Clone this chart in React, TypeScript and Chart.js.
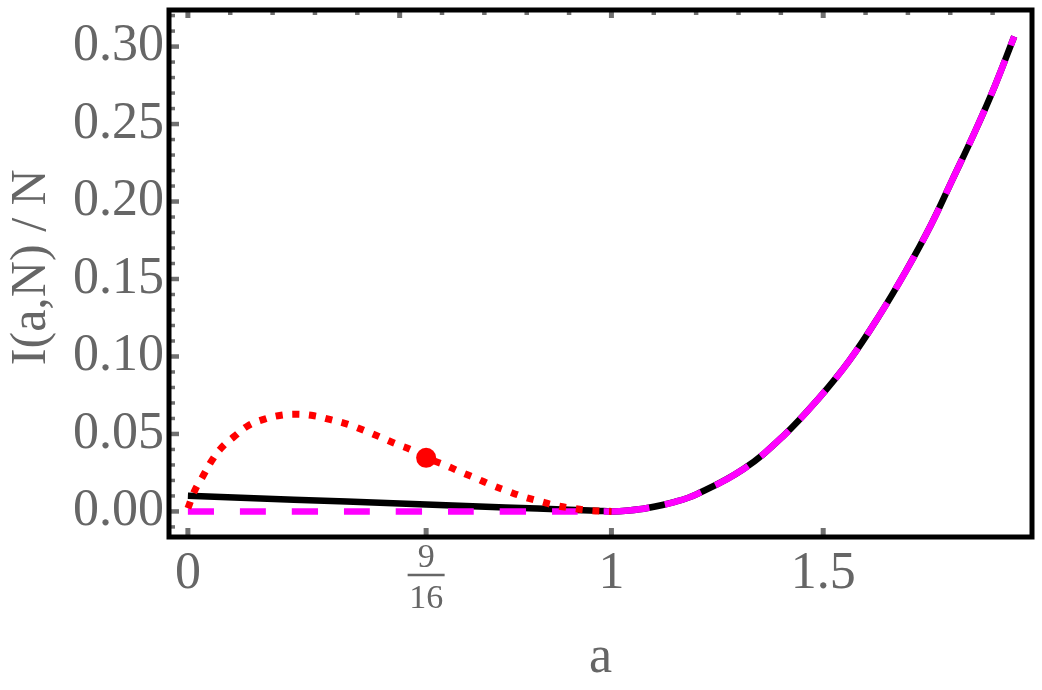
import React, { useEffect, useRef } from 'react';
import { Chart, registerables } from 'chart.js';

Chart.register(...registerables);

// ---- data ----
const blackA = [0, 0.25, 0.5, 0.75, 0.9, 0.967, 1.0, 1.04, 1.085, 1.15, 1.202, 1.311, 1.405, 1.491, 1.562, 1.632, 1.695, 1.754, 1.804, 1.859, 1.906, 1.951];
const blackI = [0.0101, 0.0076, 0.0051, 0.0026, 0.0011, 0.0005, 0.0, 0.0006, 0.0022, 0.0062, 0.0112, 0.0272, 0.0485, 0.0735, 0.0975, 0.1262, 0.155, 0.1847, 0.2135, 0.2455, 0.2751, 0.3065];

const magentaA = [0, 0.25, 0.5, 0.75, 1.0, 1.04, 1.085, 1.15, 1.202, 1.311, 1.405, 1.491, 1.562, 1.632, 1.695, 1.754, 1.804, 1.859, 1.906, 1.951];
const magentaI = [0, 0, 0, 0, 0, 0.0006, 0.0022, 0.0062, 0.0112, 0.0272, 0.0485, 0.0735, 0.0975, 0.1262, 0.155, 0.1847, 0.2135, 0.2455, 0.2751, 0.3065];

const redA = [0, 0.016, 0.036, 0.056, 0.079, 0.11, 0.142, 0.181, 0.22, 0.259, 0.298, 0.337, 0.38, 0.418, 0.455, 0.491, 0.529, 0.5625, 0.603, 0.642, 0.681, 0.717, 0.752, 0.791, 0.83, 0.869, 0.911, 0.951, 0.991, 1.0];
const redI = [0.002, 0.0134, 0.023, 0.0326, 0.041, 0.0485, 0.0553, 0.0596, 0.0621, 0.0627, 0.0617, 0.0592, 0.056, 0.0521, 0.0479, 0.0436, 0.0396, 0.0346, 0.0304, 0.0257, 0.0213, 0.017, 0.0134, 0.0096, 0.0066, 0.0038, 0.0019, 0.0006, 0.0001, 0];

const dotA = [0.5625];
const dotI = [0.0346];

const xTickValues = [0, 0.5625, 1, 1.5];
const xTickLabels: (string | string[])[] = ['0', ['9', '16'], '1', '1.5'];
const yTickValues = [0, 0.05, 0.1, 0.15, 0.2, 0.25, 0.3];
const yTickLabels = ['0.00', '0.05', '0.10', '0.15', '0.20', '0.25', '0.30'];

const xTitle = 'a';
const yTitle = ' I(a,N) / N';

const FONT = "'Liberation Serif', 'Times New Roman', serif";
const GREY = '#666666';
const TICK_GREY = '#707070';

const toPts = (xs: number[], ys: number[]) => xs.map((x, i) => ({ x, y: ys[i] }));

const framePlugin = {
  id: 'mmaFrame',
  beforeDatasetsDraw(chart: any) {
    const { ctx, chartArea: a, scales } = chart;
    const xs = scales.x;
    const ys = scales.y;
    ctx.save();
    ctx.strokeStyle = TICK_GREY;
    ctx.lineCap = 'butt';
    const line = (x1: number, y1: number, x2: number, y2: number, w: number) => {
      ctx.lineWidth = w;
      ctx.beginPath();
      ctx.moveTo(x1, y1);
      ctx.lineTo(x2, y2);
      ctx.stroke();
    };
    // left frame ticks (0.01 minor, 0.05 major)
    for (let k = -1; k <= 32; k++) {
      const v = k / 100;
      const y = ys.getPixelForValue(v);
      if (y < a.top + 2 || y > a.bottom - 2) continue;
      const major = k % 5 === 0;
      line(a.left, y, a.left + (major ? 10 : 6), y, major ? 4.5 : 3.5);
    }
    // top frame ticks (0.1 minor, 0.5 major)
    for (let k = 0; k <= 19; k++) {
      const v = k / 10;
      const x = xs.getPixelForValue(v);
      const major = k % 5 === 0;
      line(x, a.top, x, a.top + (major ? 8 : 5), major ? 5 : 4.5);
    }
    // bottom frame ticks
    xTickValues.forEach((v) => {
      const x = xs.getPixelForValue(v);
      line(x, a.bottom, x, a.bottom - 9, 5);
    });
    ctx.restore();
  },
  afterDatasetsDraw(chart: any) {
    const { ctx, chartArea: a } = chart;
    ctx.save();
    ctx.strokeStyle = '#000';
    ctx.lineWidth = 5;
    ctx.strokeRect(a.left, a.top, a.right - a.left, a.bottom - a.top);
    ctx.restore();
  },
  afterDraw(chart: any) {
    const { ctx, chartArea: a, scales } = chart;
    const x = scales.x.getPixelForValue(xTickValues[1]);
    const y = a.bottom + 38;
    ctx.save();
    ctx.strokeStyle = GREY;
    ctx.lineWidth = 2.5;
    ctx.beginPath();
    ctx.moveTo(x - 18.5, y);
    ctx.lineTo(x + 18.5, y);
    ctx.stroke();
    ctx.restore();
  },
};

export default function App() {
  const ref = useRef<HTMLCanvasElement | null>(null);

  useEffect(() => {
    if (!ref.current) return;
    const chart = new Chart(ref.current, {
      type: 'line',
      data: {
        datasets: [
          {
            label: 'dot',
            data: toPts(dotA, dotI),
            showLine: false,
            pointRadius: 10,
            pointBackgroundColor: '#ff0000',
            pointBorderWidth: 0,
            borderColor: '#ff0000',
            order: -1,
          },
          {
            label: 'red',
            data: toPts(redA, redI),
            borderColor: '#ff0000',
            borderWidth: 7,
            borderDash: [7, 9.7],
            borderCapStyle: 'butt',
            pointRadius: 0,
            tension: 0.4,
            order: 0,
          },
          {
            label: 'magenta',
            data: toPts(magentaA, magentaI),
            borderColor: '#ff00ff',
            borderWidth: 6.5,
            borderCapStyle: 'butt',
            pointRadius: 0,
            tension: 0.4,
            segment: {
              borderDash: (c: any) => (c.p0.parsed.x < 1 ? [26, 26] : [38, 16]),
            },
            order: 1,
          },
          {
            label: 'black',
            data: toPts(blackA, blackI),
            borderColor: '#000000',
            borderWidth: 6.5,
            borderCapStyle: 'butt',
            pointRadius: 0,
            tension: 0.4,
            order: 2,
          },
        ] as any,
      },
      options: {
        animation: false,
        responsive: false,
        events: [],
        layout: { padding: { top: 3, right: 5, left: 0, bottom: 0 } },
        plugins: { legend: { display: false }, tooltip: { enabled: false } },
        scales: {
          x: {
            type: 'linear',
            min: -0.0446,
            max: 1.993,
            grid: { display: false, drawTicks: false },
            border: { display: false },
            afterBuildTicks: (s: any) => {
              s.ticks = xTickValues.map((v) => ({ value: v }));
            },
            afterFit: (s: any) => {
              s.height = 153;
              s.paddingLeft = 0;
              s.paddingRight = 0;
              s.paddingTop = 0;
              s.paddingBottom = 0;
            },
            ticks: {
              autoSkip: false,
              maxRotation: 0,
              minRotation: 0,
              padding: 1,
              color: GREY,
              font: (c: any) =>
                c.index === 1
                  ? { family: FONT, size: 34, lineHeight: 1.2 }
                  : { family: FONT, size: 52, lineHeight: 1.404 },
              callback: (_v: any, i: number) => xTickLabels[i],
            },
            title: {
              display: true,
              text: xTitle,
              color: GREY,
              font: { family: FONT, size: 52, lineHeight: 1.2 },
              padding: { top: 0, bottom: 0 },
            },
          },
          y: {
            type: 'linear',
            min: -0.0165,
            max: 0.3236,
            grid: { display: false, drawTicks: false },
            border: { display: false },
            afterBuildTicks: (s: any) => {
              s.ticks = yTickValues.map((v) => ({ value: v }));
            },
            afterFit: (s: any) => {
              s.width = 169;
              s.paddingLeft = 0;
              s.paddingRight = 0;
              s.paddingTop = 0;
              s.paddingBottom = 0;
            },
            ticks: {
              autoSkip: false,
              padding: 5,
              color: GREY,
              font: { family: FONT, size: 52 },
              callback: (_v: any, i: number) => yTickLabels[i],
            },
            title: {
              display: true,
              text: yTitle,
              color: GREY,
              font: { family: FONT, size: 50, lineHeight: 1.2 },
              padding: { top: 2, bottom: 0 },
            },
          },
        },
      } as any,
      plugins: [framePlugin],
    });
    return () => chart.destroy();
  }, []);

  return (
    <div style={{ position: 'fixed', left: 0, top: 0, width: 1042, height: 690, background: '#fff' }}>
      <canvas ref={ref} width={1042} height={690} style={{ display: 'block', width: 1042, height: 690 }} />
    </div>
  );
}
